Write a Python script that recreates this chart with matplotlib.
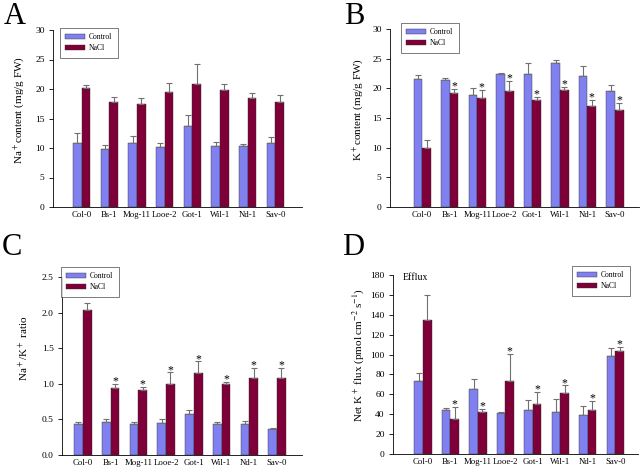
import numpy as np
import matplotlib
matplotlib.use("Agg")
import matplotlib.pyplot as plt

plt.rcParams['font.family'] = ['Liberation Serif', 'DejaVu Serif']
plt.rcParams['mathtext.fontset'] = 'stix'

accessions = ['Col-0', 'Bs-1', 'Mog-11', 'Looe-2', 'Got-1', 'Wil-1', 'Nd-1', 'Sav-0']

# A: Na+ content (mg/g FW)
na_ctrl = [10.8, 9.8, 10.9, 10.1, 13.8, 10.4, 10.4, 10.8]
na_ctrl_err = [1.7, 0.7, 1.2, 0.7, 1.8, 0.6, 0.2, 1.0]
na_salt = [20.2, 17.8, 17.5, 19.5, 20.8, 19.8, 18.4, 17.8]
na_salt_err = [0.5, 0.8, 1.0, 1.5, 3.4, 1.1, 1.0, 1.2]

# B: K+ content (mg/g FW)
k_ctrl = [21.5, 21.4, 18.9, 22.5, 22.5, 24.3, 22.0, 19.6]
k_ctrl_err = [0.8, 0.4, 1.1, 0.1, 1.8, 0.4, 1.7, 1.0]
k_salt = [9.9, 19.2, 18.3, 19.5, 18.1, 19.8, 17.0, 16.4]
k_salt_err = [1.4, 0.7, 1.4, 1.7, 0.5, 0.4, 1.1, 1.2]

# C: Na+/K+ ratio
r_ctrl = [0.43, 0.465, 0.43, 0.445, 0.58, 0.43, 0.44, 0.36]
r_ctrl_err = [0.03, 0.035, 0.035, 0.055, 0.05, 0.035, 0.04, 0.025]
r_salt = [2.03, 0.935, 0.915, 1.0, 1.155, 1.0, 1.08, 1.085]
r_salt_err = [0.10, 0.065, 0.045, 0.16, 0.16, 0.03, 0.14, 0.14]

# D: net K+ flux
f_ctrl = [73.4, 44.7, 65.6, 41.3, 44.7, 42.6, 38.9, 98.4]
f_ctrl_err = [8.1, 2.0, 9.8, 1.3, 9.4, 12.9, 9.8, 8.2]
f_salt = [135.0, 35.2, 42.0, 73.4, 50.7, 60.9, 44.0, 103.2]
f_salt_err = [25.0, 11.8, 3.3, 27.4, 11.5, 8.1, 9.1, 4.7]

# which NaCl bars carry an asterisk
star_b = [False, True, True, True, True, True, True, True]
star_c = [False, True, True, True, True, True, True, True]
star_d = [False, True, True, True, True, True, True, True]

c_ctrl = '#8080f0'
c_salt = '#7f0038'

fig = plt.figure(figsize=(6.44, 4.68), dpi=100)


def panel(rect, ctrl, ctrl_err, salt, salt_err, ylim, yticks, ytl, ylabel,
          xlim, labcoords, stars=None, star_off=0.0):
    ax = fig.add_axes(rect)
    x = np.arange(len(accessions))
    w = 0.315
    ekw = dict(ecolor='#707070', elinewidth=0.8, capsize=2.5, capthick=0.8)
    ax.bar(x - w / 2, ctrl, w, color=c_ctrl, edgecolor='#303030', linewidth=0.3,
           yerr=[np.zeros(len(ctrl)), ctrl_err], error_kw=ekw, label='Control')
    ax.bar(x + w / 2, salt, w, color=c_salt, edgecolor='#303030', linewidth=0.3,
           yerr=[np.zeros(len(salt)), salt_err], error_kw=ekw, label='NaCl')
    if stars is not None:
        for i, s in enumerate(stars):
            if s:
                ax.text(x[i] + w / 2, salt[i] + salt_err[i] + star_off, '*',
                        ha='center', va='bottom', fontsize=8.5)
    ax.set_xlim(*xlim)
    ax.set_ylim(*ylim)
    ax.set_yticks(yticks)
    ax.set_yticklabels(ytl, fontsize=6.8)
    ax.set_xticks(x)
    ax.set_xticklabels(accessions, fontsize=6.3)
    ax.tick_params(axis='x', length=0, pad=3)
    ax.tick_params(axis='y', length=3, width=0.6, pad=3, direction='out')
    ax.spines['top'].set_visible(False)
    ax.spines['right'].set_visible(False)
    ax.spines['left'].set_linewidth(0.6)
    ax.spines['bottom'].set_linewidth(0.6)
    ax.set_ylabel(ylabel, fontsize=8)
    ax.yaxis.set_label_coords(*labcoords)
    return ax


def legend(ax, x0, y0):
    lg = ax.legend(loc='upper left', bbox_to_anchor=(x0 / 644, 1 - y0 / 468),
                   bbox_transform=fig.transFigure, fontsize=5.5, frameon=True,
                   fancybox=False, edgecolor='#404040', handlelength=2.6,
                   handleheight=0.6, borderpad=0.7, labelspacing=0.4,
                   handletextpad=0.5, borderaxespad=0)
    lg.get_frame().set_linewidth(0.6)


ax = panel([53 / 644, 1 - 207 / 468, 249 / 644, 177 / 468],
           na_ctrl, na_ctrl_err, na_salt, na_salt_err,
           (0, 30), [0, 5, 10, 15, 20, 25, 30], ['0', '5', '10', '15', '20', '25', '30'],
           r'Na$^+$content (mg/g FW)', (-1.03, 7.96), (-0.105, 0.55))
legend(ax, 60, 28)
fig.text(4 / 644, 1 - 24 / 468, 'A', fontsize=22)

ax = panel([390 / 644, 1 - 207 / 468, 249 / 644, 178 / 468],
           k_ctrl, k_ctrl_err, k_salt, k_salt_err,
           (0, 30), [0, 5, 10, 15, 20, 25, 30], ['0', '5', '10', '15', '20', '25', '30'],
           r'K$^+$content (mg/g FW)', (-1.17, 7.87), (-0.095, 0.55),
           stars=star_b, star_off=-0.6)
legend(ax, 401, 23)
fig.text(344 / 644, 1 - 24 / 468, 'B', fontsize=22)

ax = panel([62 / 644, 1 - 455 / 468, 240 / 644, 178 / 468],
           r_ctrl, r_ctrl_err, r_salt, r_salt_err,
           (0, 2.5), [0, 0.5, 1.0, 1.5, 2.0, 2.5], ['0.0', '0.5', '1.0', '1.5', '2.0', '2.5'],
           r'Na$^+$/K$^+$ ratio', (-0.75, 7.9), (-0.13, 0.6),
           stars=star_c, star_off=-0.05)
legend(ax, 61, 267)
fig.text(2 / 644, 1 - 255 / 468, 'C', fontsize=22)

ax = panel([393 / 644, 1 - 454 / 468, 245 / 644, 179 / 468],
           f_ctrl, f_ctrl_err, f_salt, f_salt_err,
           (0, 180), list(range(0, 181, 20)), [str(v) for v in range(0, 181, 20)],
           r'Net K$^+$ flux (pmol cm$^{-2}$ s$^{-1}$)', (-1.09, 7.83), (-0.11, 0.55),
           stars=star_d, star_off=-3.5)
legend(ax, 572, 266)
ax.text(0.04, 0.985, 'Efflux', transform=ax.transAxes, fontsize=7, va='center')
fig.text(342 / 644, 1 - 255 / 468, 'D', fontsize=22)

fig.savefig('out.png', dpi=100)
